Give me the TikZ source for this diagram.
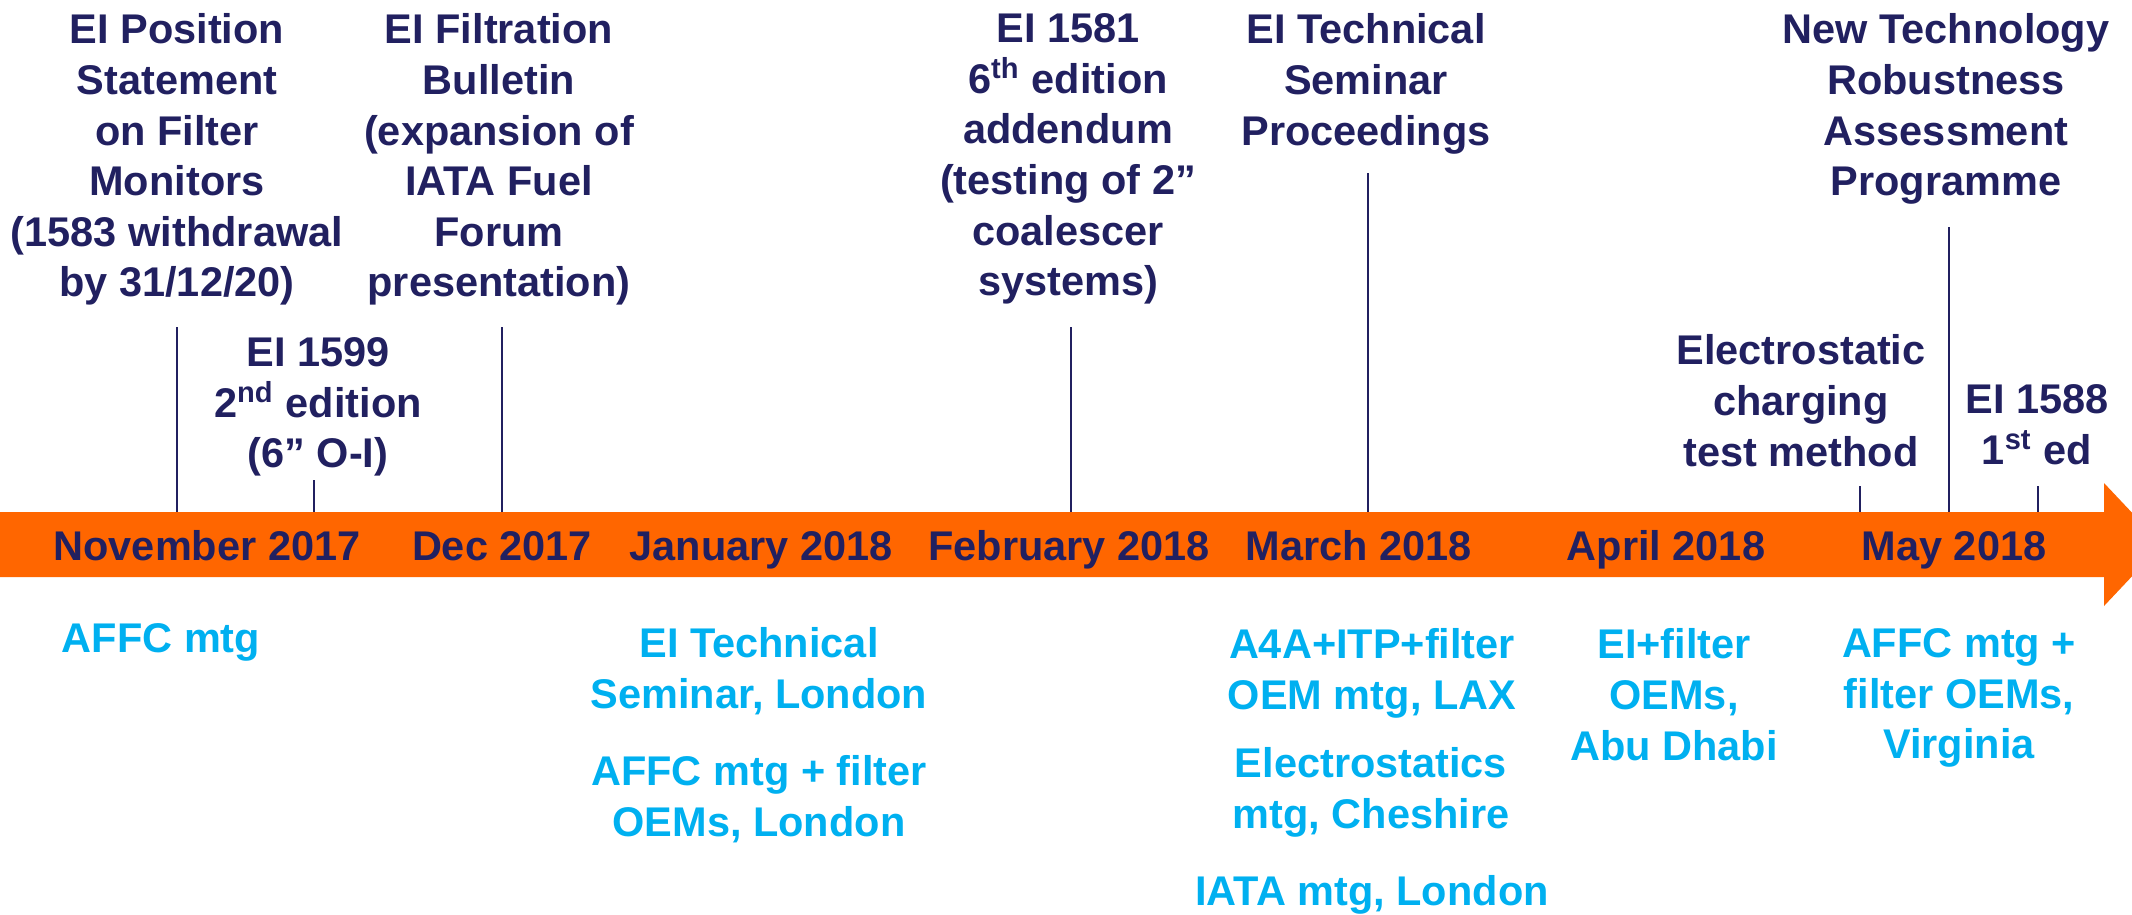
\documentclass[tikz,border=0pt]{standalone}
\usepackage{fontspec}
\setmainfont{Liberation Sans}
\usepackage{xcolor}
\usetikzlibrary{positioning}
\definecolor{navy}{HTML}{212060}
\definecolor{sky}{HTML}{00B0F0}
\definecolor{band}{HTML}{FF6600}
\newcommand{\lblfont}{\fontsize{11.8pt}{14.4pt}\selectfont\bfseries}
\tikzset{%
	doc/.style={
		font=\lblfont,
		text=navy,
		align=center,
		inner sep=0pt,
		anchor=north
	},
	mtg/.style={
		font=\lblfont,
		text=sky,
		align=center,
		inner sep=0pt,
		anchor=north
	},
	month/.style={
		font=\lblfont,
		text=navy,
		inner sep=0pt,
		anchor=base
	},
	tick/.style={
		draw=navy,
		line width=0.7pt
	},
}

\begin{document}
\begin{tikzpicture}[x=0.01cm, y=-0.01cm]
	\useasboundingbox (0,0) rectangle (2132,914);
	
	% Draw the timeline arrow
	\fill[band] (0,512) -- (2104,512) -- (2104,483) -- (2162,544.5)
		-- (2104,606) -- (2104,577) -- (0,577) -- cycle;
	\coordinate (bandtop) at (0,512);
	
	% Months on the arrow
	\node[month] (nov) at (207,560) {November 2017};
	\node[month] (dec) at (502,560) {Dec 2017};
	\node[month] (jan) at (761,560) {January 2018};
	\node[month] (feb) at (1069,560) {February 2018};
	\node[month] (mar) at (1359,560) {March 2018};
	\node[month] (apr) at (1666,560) {April 2018};
	\node[month] (may) at (1954,560) {May 2018};
	
	% Documents above the arrow
	\node[doc] (ps) at (177,13) {EI Position\\Statement\\on Filter\\Monitors\\(1583 withdrawal\\by 31/12/20)};
	\node[doc] (ei1599) at (318,337) {EI 1599\\2\textsuperscript{nd} edition\\(6” O-I)};
	\node[doc] (fb) at (499,13) {EI Filtration\\Bulletin\\(expansion of\\IATA Fuel\\Forum\\presentation)};
	\node[doc] (ei1581) at (1068,13) {EI 1581\\6\textsuperscript{th} edition\\addendum\\(testing of 2”\\coalescer\\systems)};
	\node[doc] (seminar) at (1366,13) {EI Technical\\Seminar\\Proceedings};
	\node[doc] (escharge) at (1801,334) {Electrostatic\\charging\\test method};
	\node[doc] (ntrap) at (1946,13) {New Technology\\Robustness\\Assessment\\Programme};
	\node[doc] (ei1588) at (2037,384) {EI 1588\\1\textsuperscript{st} ed};
	
	% Ticks down to the arrow
	\coordinate (tps) at (177,327);
	\coordinate (t1599) at (314,480);
	\coordinate (tfb) at (502,327);
	\coordinate (t1581) at (1071,327);
	\coordinate (tsem) at (1368,173);
	\coordinate (tesc) at (1860,486);
	\coordinate (tntrap) at (1949,227);
	\coordinate (t1588) at (2038,486);
	\foreach \t in {tps,t1599,tfb,t1581,tsem,tesc,tntrap,t1588}
		\draw[tick] (\t) -- (\t |- bandtop);
	
	% Meetings below the arrow
	\node[mtg] (affcnov) at (161,623) {AFFC mtg};
	\node[mtg] (semlon) at (759,627) {EI Technical\\Seminar, London};
	\node[mtg] (affclon) at (759,755) {AFFC mtg + filter\\OEMs, London};
	\node[mtg] (a4a) at (1372,628) {A4A+ITP+filter\\OEM mtg, LAX};
	\node[mtg] (estatics) at (1371,747) {Electrostatics\\mtg, Cheshire};
	\node[mtg] (iata) at (1372,875) {IATA mtg, London};
	\node[mtg] (abudhabi) at (1674,628) {EI+filter\\OEMs,\\Abu Dhabi};
	\node[mtg] (virginia) at (1959,628) {AFFC mtg +\\filter OEMs,\\Virginia};
\end{tikzpicture}
\end{document}
